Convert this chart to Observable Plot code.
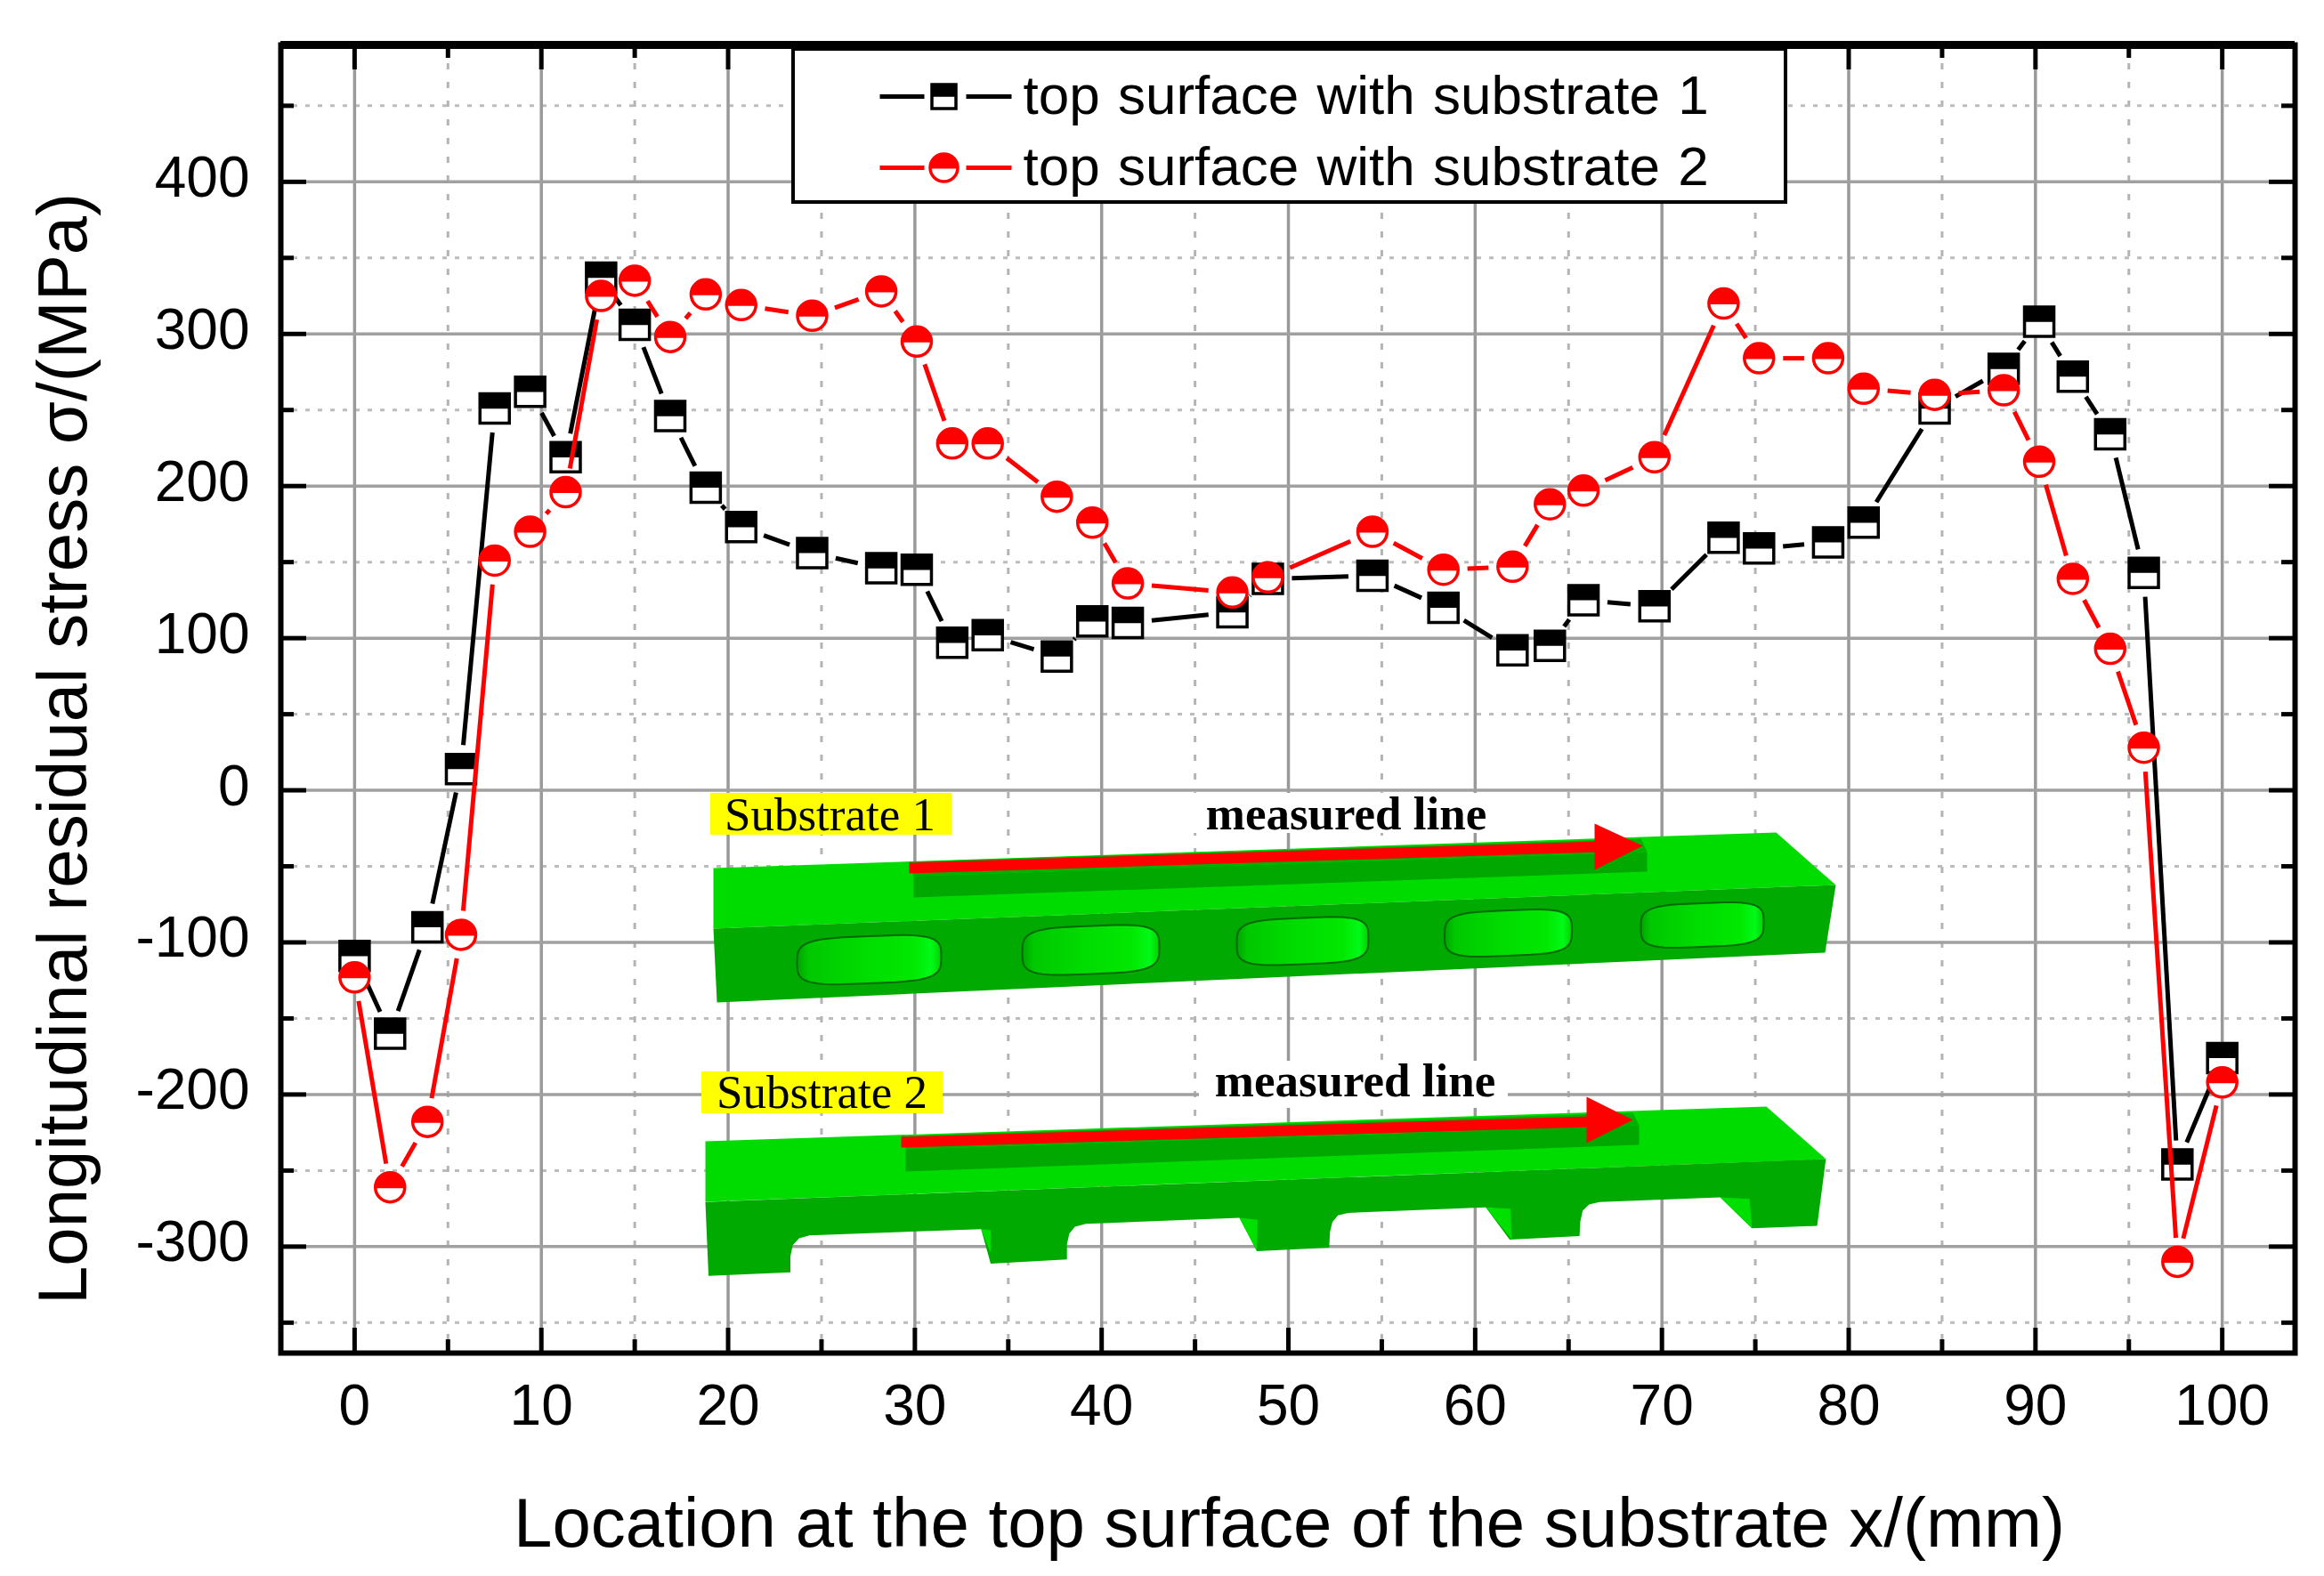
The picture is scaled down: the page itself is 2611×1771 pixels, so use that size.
<![CDATA[<!DOCTYPE html>
<html><head><meta charset="utf-8">
<style>html,body{margin:0;padding:0;background:#fff}svg{display:block}.ws text{word-spacing:3px}</style>
<script src="https://cdn.jsdelivr.net/npm/d3@7"></script>
<script src="https://cdn.jsdelivr.net/npm/@observablehq/plot@0.6"></script>
</head><body><div id="chart"></div>
<script>
// ---- chart data (read from the picture) ----
const locations = [0,1.9,3.9,5.7,7.5,9.4,11.3,13.2,15,16.9,18.8,20.7,24.5,28.2,30.1,32,33.9,37.6,39.5,41.4,47,48.9,54.5,58.3,62,64,65.8,69.6,73.3,75.2,78.9,80.8,84.6,88.3,90.2,92,94,95.8,97.6,100];
const substrate1 = [-109,-160,-90,14,251,262,219,337,306,246,199,173,156,146,145,97,102,88,111,110,117,139,141,120,92,95,125,121,166,159,163,176,251,277,308,272,234,143,-246,-176];
const substrate2 = [-123,-261,-218,-95,151,170,196,325,335,298,326,319,312,328,295,228,228,193,176,136,130,140,170,145,147,188,197,219,320,284,284,264,260,263,216,139,93,28,-310,-192];
const xMajor = [0,10,20,30,40,50,60,70,80,90,100];
const xMinor = [5,15,25,35,45,55,65,75,85,95];
const yMajor = [-300,-200,-100,0,100,200,300,400];
const yMinor = [-350,-250,-150,-50,50,150,250,350,450];
const xTitle = "Location at the top surface of the substrate x/(mm)";
const yTitle = "Longitudinal residual stress σ/(MPa)";
const legendLabels = ["top surface with substrate 1","top surface with substrate 2"];

// ---- scale set-up ----
const W=2611,H=1771,mL=315,mR=33,mT=50,mB=251;
const xDom=[-3.95,103.9], yDom=[490,-370];
const kx=(W-mL-mR)/(xDom[1]-xDom[0]), ky=(H-mT-mB)/(yDom[0]-yDom[1]);
const X=p=>xDom[0]+(p-mL)/kx, Y=p=>yDom[0]-(p-mT)/ky;
const pt=([a,b])=>({x:X(a),y:Y(b)});
const poly=a=>a.map(pt);

// ---- half-filled marker shapes ----
const sq={draw(c,s){const r=Math.sqrt(s/Math.PI);c.rect(-r,-r,2*r,2*r);}};
const sqTop={draw(c,s){const r=Math.sqrt(s/Math.PI);c.rect(-r,-r,2*r,r*0.95);}};
const discTop={draw(c,s){const r=Math.sqrt(s/Math.PI);c.moveTo(-r,0);c.arc(0,0,r,Math.PI,2*Math.PI);c.closePath();}};

// line pieces that stop short of the symbols, as the original does
function pieces(xs,ys,gap){
  const out=[];
  for(let i=0;i+1<xs.length;i++){
    const dx=(xs[i+1]-xs[i])*kx,dy=(ys[i+1]-ys[i])*ky,len=Math.hypot(dx,dy);
    if(len<=2*gap) continue;
    const t=gap/len;
    out.push({x1:xs[i]+(xs[i+1]-xs[i])*t,y1:ys[i]+(ys[i+1]-ys[i])*t,
              x2:xs[i+1]-(xs[i+1]-xs[i])*t,y2:ys[i+1]-(ys[i+1]-ys[i])*t});
  }
  return out;
}
const rows=(ys)=>locations.map((x,i)=>({x,y:ys[i]}));
const GAP=27,R=16.5,LRS=13.5,LRC=15.5;

function seriesMarks(ys,color,shape,shapeTop){
  const d=rows(ys);
  return [
    Plot.link(pieces(locations,ys,GAP),{x1:"x1",y1:"y1",x2:"x2",y2:"y2",stroke:color,strokeWidth:5}),
    Plot.dot(d,{x:"x",y:"y",r:R,symbol:shape,fill:"white",stroke:color,strokeWidth:3.5}),
    Plot.dot(d,{x:"x",y:"y",r:R,symbol:shapeTop,fill:color,stroke:color,strokeWidth:2})
  ];
}

// ---- inset illustration shapes (image pixels converted to chart units) ----
const GT="#00dc00",GF="#00aa00",GD="#00a800",RA="#ff0000";
const slot=(cx,cy,w,h)=>{const s=-0.04,a=w/2,b=h/2,q=[];
  for(let i=0;i<48;i++){const t=i/48*2*Math.PI,c=Math.cos(t),n=Math.sin(t);
    const ux=Math.sign(c)*a*Math.pow(Math.abs(c),0.5),uy=Math.sign(n)*b*Math.pow(Math.abs(n),0.55);
    q.push([cx+ux,cy+uy+ux*s]);}
  return poly(q);};
const insetTop1=poly([[801,975],[1995,935],[2062,994],[801,1043]]);
const insetFront1=poly([[801,1043],[2062,994],[2050,1070],[805,1126]]);
const insetGroove1=poly([[1026,984],[1850,957],[1850,979],[1026,1008]]);
const insetStrip1=poly([[1021,968],[1843,942],[1850,957],[1026,984]]);
const insetShaft1=poly([[1021,969],[1794,945],[1794,957],[1021,981]]);
const insetHead1=poly([[1791,925],[1845,950],[1791,977]]);
const insetSlots=[[976,1078,162,53],[1225,1067,154,54],[1463,1057,148,52],[1694,1048,143,51],[1912,1039,138,49]];
const insetTop2=poly([[792,1282],[1984,1243],[2051,1302],[792,1350]]);
const cut=(a)=>a.map(([zx,zy])=>[700+zx/1.12,850+zy/2.529]);
const insetFront2=poly(cut([[103,1265],[1513,1143],[1502,1333],[1420,1340],[1380,1252],[1228,1265],[1215,1272],[1207,1290],[1204,1320],[1203,1362],[1115,1372],[1085,1280],[912,1296],[899,1303],[892,1322],[889,1350],[888,1395],[797,1405],[775,1310],[582,1327],[568,1335],[561,1355],[558,1385],[558,1428],[462,1440],[450,1342],[234,1360],[221,1368],[213,1388],[210,1420],[210,1465],[107,1475]]));
const insetBright=[[[450,1342],[462,1345],[462,1410]],[[775,1310],[798,1316],[797,1405]],[[1085,1280],[1116,1284],[1118,1372]],[[1380,1252],[1417,1256],[1420,1340]]].map(a=>poly(cut(a)));
const insetGroove2=poly([[1017,1291],[1841,1264],[1841,1286],[1017,1316]]);
const insetStrip2=poly([[1012,1276],[1834,1250],[1841,1264],[1017,1291]]);
const insetShaft2=poly([[1012,1277],[1785,1254],[1785,1266],[1012,1289]]);
const insetHead2=poly([[1782,1232],[1834,1258],[1782,1284]]);

const fillShape=(s,fill,extra={})=>Plot.line(s,{x:"x",y:"y",fill,stroke:"none",curve:"linear-closed",...extra});
const box=(a,b,c,d,o)=>Plot.rect([0],{x1:X(a),x2:X(b),y1:Y(c),y2:Y(d),...o});

const defs=()=>{const s=d3.create("svg:defs");
  const g=s.append("linearGradient").attr("id","holeGrad");
  [[0,"#00a400"],[0.08,"#00c800"],[0.45,"#00dc00"],[0.8,"#00e800"],[0.93,"#00fa18"],[1,"#00d000"]].forEach(([o,c])=>g.append("stop").attr("offset",o).attr("stop-color",c));
  return s.node();};

const serif={fontFamily:"Liberation Serif",fill:"black",textAnchor:"middle",lineAnchor:"bottom"};
const txt=(t,x,y,o)=>Plot.text([t],{x:X(x),y:Y(y),text:d=>d,...o});

const plot=Plot.plot({
  width:W,height:H,marginLeft:mL,marginRight:mR,marginTop:mT,marginBottom:mB,
  style:{fontFamily:"Liberation Sans",background:"white",color:"black"},
  x:{domain:xDom},y:{domain:[yDom[1],yDom[0]]},
  marks:[
    defs,
    // grids
    Plot.ruleX(xMinor,{stroke:"#b4b4b4",strokeWidth:3,strokeDasharray:"7 14"}),
    Plot.ruleY(yMinor,{stroke:"#bcbcbc",strokeWidth:3,strokeDasharray:"5 9"}),
    Plot.ruleX(xMajor,{stroke:"#999",strokeWidth:3.5}),
    Plot.ruleY(yMajor,{stroke:"#a0a0a0",strokeWidth:3.5}),
    // ticks on all four sides
    Plot.ruleX(xMajor,{y1:yDom[1],y2:yDom[1]+28/ky,stroke:"black",strokeWidth:5}),
    Plot.ruleX(xMinor,{y1:yDom[1],y2:yDom[1]+15/ky,stroke:"black",strokeWidth:5}),
    Plot.ruleX(xMajor,{y1:yDom[0],y2:yDom[0]-28/ky,stroke:"black",strokeWidth:5}),
    Plot.ruleX(xMinor,{y1:yDom[0],y2:yDom[0]-15/ky,stroke:"black",strokeWidth:5}),
    Plot.ruleY(yMajor,{x1:xDom[0],x2:xDom[0]+29/kx,stroke:"black",strokeWidth:5}),
    Plot.ruleY(yMinor,{x1:xDom[0],x2:xDom[0]+15/kx,stroke:"black",strokeWidth:5}),
    Plot.ruleY(yMajor,{x1:xDom[1],x2:xDom[1]-29/kx,stroke:"black",strokeWidth:5}),
    Plot.ruleY(yMinor,{x1:xDom[1],x2:xDom[1]-15/kx,stroke:"black",strokeWidth:5}),
    // axis labels
    Plot.axisX(xMajor,{anchor:"bottom",tickSize:0,tickPadding:35,fontSize:64,label:null,tickFormat:d=>String(d)}),
    Plot.axisY(yMajor,{anchor:"left",tickSize:0,tickPadding:35,fontSize:64,dy:-4,label:null,tickFormat:d=>String(d)}),
    txt(xTitle,1448,1713,{fontSize:78,textAnchor:"middle",lineAnchor:"middle",fill:"black"}),
    Plot.text([yTitle],{x:xDom[0],y:Y(841),text:d=>d,rotate:-90,dx:-243,fontSize:78,fill:"black",textAnchor:"middle",lineAnchor:"middle"}),
    // inset: substrate 1
    box(1338,1687,891,936,{fill:"white"}),
    box(798,1069,891,938,{fill:"#ffff00"}),
    txt("Substrate 1",932,932,{...serif,fontSize:53}),
    txt("measured line",1512,931,{...serif,fontSize:53,fontWeight:"bold"}),
    fillShape(insetTop1,GT),
    fillShape(insetFront1,GF),
    fillShape(insetGroove1,GD),
    fillShape(insetStrip1,"#00b000"),
    ...insetSlots.map(([a,b,c,d])=>fillShape(slot(a,b,c,d),"url(#holeGrad)",{stroke:"#006a00",strokeWidth:2})),
    fillShape(insetShaft1,RA),
    fillShape(insetHead1,RA),
    // inset: substrate 2
    box(1347,1694,1192,1245,{fill:"white"}),
    box(788,1059,1204,1251,{fill:"#ffff00"}),
    txt("Substrate 2",923,1244,{...serif,fontSize:53}),
    txt("measured line",1522,1231,{...serif,fontSize:53,fontWeight:"bold"}),
    fillShape(insetTop2,GT),
    fillShape(insetFront2,GF),
    ...insetBright.map(s=>fillShape(s,"#00e000")),
    fillShape(insetGroove2,GD),
    fillShape(insetStrip2,"#00b000"),
    fillShape(insetShaft2,RA),
    fillShape(insetHead2,RA),
    // series
    ...seriesMarks(substrate1,"black",sq,sqTop),
    ...seriesMarks(substrate2,"#ff0000",d3.symbolCircle,discTop),
    // legend
    box(891,2006,55,227,{fill:"white",stroke:"black",strokeWidth:4}),
    Plot.link([[988,1038],[1085,1136]],{x1:d=>X(d[0]),x2:d=>X(d[1]),y1:Y(108),y2:Y(108),stroke:"black",strokeWidth:5}),
    Plot.link([[988,1038],[1085,1136]],{x1:d=>X(d[0]),x2:d=>X(d[1]),y1:Y(188),y2:Y(188),stroke:"#ff0000",strokeWidth:5}),
    Plot.dot([0],{x:X(1060),y:Y(108),r:LRS,symbol:sq,fill:"white",stroke:"black",strokeWidth:3.5}),
    Plot.dot([0],{x:X(1060),y:Y(108),r:LRS,symbol:sqTop,fill:"black",stroke:"black",strokeWidth:2}),
    Plot.dot([0],{x:X(1060),y:Y(188),r:LRC,symbol:"circle",fill:"white",stroke:"#ff0000",strokeWidth:3.5}),
    Plot.dot([0],{x:X(1060),y:Y(188),r:LRC,symbol:discTop,fill:"#ff0000",stroke:"#ff0000",strokeWidth:2}),
    txt(legendLabels[0],1149,108,{fontSize:62,textAnchor:"start",lineAnchor:"middle",fill:"black",className:"ws"}),
    txt(legendLabels[1],1149,188,{fontSize:62,textAnchor:"start",lineAnchor:"middle",fill:"black",className:"ws"}),
    // frame
    Plot.frame({stroke:"black",strokeWidth:6}),
    Plot.ruleY([yDom[0]],{stroke:"black",strokeWidth:9})
  ]
});
document.getElementById("chart").append(plot);
</script></body></html>]]>
